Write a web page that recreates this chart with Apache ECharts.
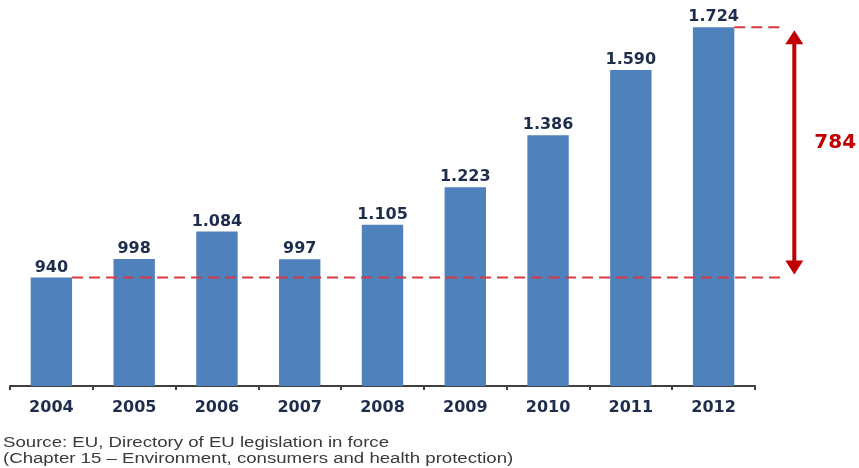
<!DOCTYPE html>
<html>
<head>
<meta charset="utf-8">
<script src="https://cdn.jsdelivr.net/npm/echarts@6/dist/echarts.min.js"></script>
<style>
  html, body { margin: 0; padding: 0; background: #fff; }
  #chart { width: 859px; height: 468px; }
</style>
</head>
<body>
<div id="chart"></div>
<script>
  // data
  var years = ['2004', '2005', '2006', '2007', '2008', '2009', '2010', '2011', '2012'];
  var acts = [940, 998, 1084, 997, 1105, 1223, 1386, 1590, 1724];
  var sourceLines = [
    'Source: EU, Directory of EU legislation in force',
    '(Chapter 15 \u2013 Environment, consumers and health protection)'
  ];

  var first = acts[0];
  var last = acts[acts.length - 1];
  var diff = last - first;

  // thousands separator is a dot in the original
  function fmt(v) {
    var s = String(v);
    return s.length > 3 ? s.slice(0, s.length - 3) + '.' + s.slice(-3) : s;
  }

  var myChart = echarts.init(document.getElementById('chart'));

  var sourceText = {
    type: 'text',
    x: 3,
    y: 435,
    scaleX: 1.33,
    style: {
      text: sourceLines.join('\n'),
      font: '14px "Liberation Sans", Arial, sans-serif',
      lineHeight: 16,
      fill: '#3a3a3a'
    }
  };

  var option = {
    animation: false,
    grid: { left: 10, right: 104, top: 3, bottom: 82 },
    xAxis: {
      type: 'category',
      data: years,
      axisLine: { lineStyle: { color: '#404040', width: 2 } },
      axisTick: { show: true, length: 4, lineStyle: { color: '#404040', width: 2 } },
      axisLabel: {
        margin: 14,
        fontFamily: 'DejaVu Sans',
        fontWeight: 'bold',
        fontSize: 16,
        color: '#1f2d4d'
      }
    },
    yAxis: {
      type: 'value',
      min: 600,
      max: 1800,
      show: false,
      splitLine: { show: false }
    },
    series: [{
      type: 'bar',
      data: acts,
      barWidth: '50%',
      itemStyle: { color: '#4f81bd' },
      label: {
        show: true,
        position: 'top',
        distance: 2,
        formatter: function (p) { return fmt(p.value); },
        fontFamily: 'DejaVu Sans',
        fontWeight: 'bold',
        fontSize: 16,
        color: '#1f2d4d'
      }
    }],
    graphic: [sourceText]
  };

  myChart.setOption(option);

  // annotation built from the axis scales
  function addAnnotation() {
    var yFirst = myChart.convertToPixel({ yAxisIndex: 0 }, first);
    var yLast = myChart.convertToPixel({ yAxisIndex: 0 }, last);
    var x0 = myChart.convertToPixel({ xAxisIndex: 0 }, 0);
    var x1 = myChart.convertToPixel({ xAxisIndex: 0 }, 1);
    var xN = myChart.convertToPixel({ xAxisIndex: 0 }, years.length - 1);
    var half = (x1 - x0) * 0.25;
    var lineEnd = xN + half + 49;
    var arrowX = xN + half + 60;
    var dash = { stroke: '#d63a44', lineWidth: 2, lineDash: [11, 6] };
    var red = '#c00000';

    myChart.setOption({
      graphic: [
        sourceText,
        { type: 'line', z: 10, shape: { x1: x0 + half, y1: yFirst, x2: lineEnd, y2: yFirst }, style: dash },
        { type: 'line', z: 10, shape: { x1: xN + half, y1: yLast, x2: lineEnd, y2: yLast }, style: dash },
        { type: 'line', z: 10, shape: { x1: arrowX, y1: yLast + 12, x2: arrowX, y2: yFirst - 12 }, style: { stroke: red, lineWidth: 4 } },
        { type: 'polygon', z: 10, shape: { points: [[arrowX, yLast + 3], [arrowX - 9, yLast + 17], [arrowX + 9, yLast + 17]] }, style: { fill: red } },
        { type: 'polygon', z: 10, shape: { points: [[arrowX, yFirst - 3], [arrowX - 9, yFirst - 17], [arrowX + 9, yFirst - 17]] }, style: { fill: red } },
        {
          type: 'text', z: 10,
          x: arrowX + 20,
          y: (yFirst + yLast) / 2 - 20,
          style: {
            text: String(diff),
            font: 'bold 20px "DejaVu Sans"',
            fill: red
          }
        }
      ]
    }, { replaceMerge: ['graphic'] });
  }
  addAnnotation();
</script>
</body>
</html>
